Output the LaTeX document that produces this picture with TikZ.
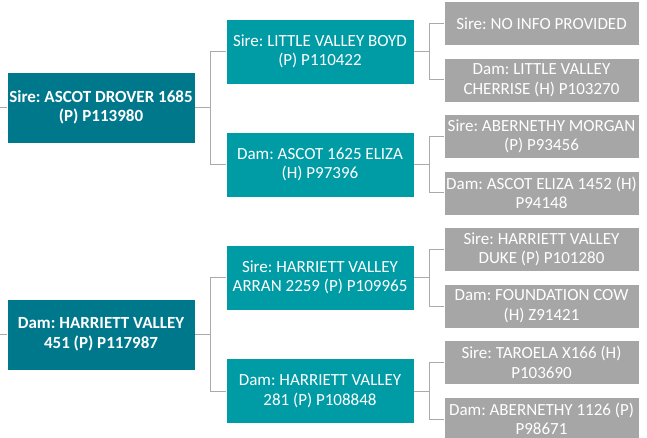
\documentclass[tikz,border=0pt]{standalone}
\usepackage{fontspec}
\setmainfont{Carlito}
\frenchspacing
\definecolor{rootteal}{RGB}{0,120,140}
\definecolor{midteal}{RGB}{0,156,166}
\definecolor{boxgray}{RGB}{166,166,166}
\definecolor{linegray}{RGB}{170,170,170}
\tikzset{
  elbow/.style={to path={-- ++(15,0) |- (\tikztotarget)}},
}
\begin{document}
\begin{tikzpicture}[x=1pt, y=-1pt, line width=1pt]
   \useasboundingbox (0,0) rectangle (647,438);
   \begin{scope}[every node/.style={draw=white, line width=0.6pt, text=white, align=center, inner sep=1pt,
       font=\fontsize{17}{19.5}\selectfont}]
    % first parents
    \node[fill=rootteal, minimum width=188, minimum height=71, font=\fontsize{17}{19.5}\selectfont\bfseries]
      (r1) at (101,107.5) {Sire: ASCOT DROVER 1685\\(P) P113980};
    \node[fill=rootteal, minimum width=188, minimum height=71, font=\fontsize{17}{19.5}\selectfont\bfseries]
      (r2) at (101,334.5) {Dam: HARRIETT VALLEY\\451 (P) P117987};

    % grandparents
    \node[fill=midteal, minimum width=188, minimum height=65] (s1) at (320,51.5) {Sire: LITTLE VALLEY BOYD\\(P) P110422};
    \node[fill=midteal, minimum width=188, minimum height=65] (s2) at (320,164.5) {Dam: ASCOT 1625 ELIZA\\(H) P97396};
    \node[fill=midteal, minimum width=188, minimum height=65] (s3) at (320,277.5) {Sire: HARRIETT VALLEY\\ARRAN 2259 (P) P109965};
    \node[fill=midteal, minimum width=188, minimum height=65] (s4) at (320,391) {Dam: HARRIETT VALLEY\\281 (P) P108848};

    % great grandparents
    \node[fill=boxgray, minimum width=195, minimum height=44] (g1) at (541.5,23.5) {Sire: NO INFO PROVIDED};
    \node[fill=boxgray, minimum width=195, minimum height=44] (g2) at (541.5,80) {Dam: LITTLE VALLEY\\CHERRISE (H) P103270};
    \node[fill=boxgray, minimum width=195, minimum height=44] (g3) at (541.5,136.5) {Sire: ABERNETHY MORGAN\\(P) P93456};
    \node[fill=boxgray, minimum width=195, minimum height=44] (g4) at (541.5,193) {Dam: ASCOT ELIZA 1452 (H)\\P94148};
    \node[fill=boxgray, minimum width=195, minimum height=44] (g5) at (541.5,249.5) {Sire: HARRIETT VALLEY\\DUKE (P) P101280};
    \node[fill=boxgray, minimum width=195, minimum height=44] (g6) at (541.5,306) {Dam: FOUNDATION COW\\(H) Z91421};
    \node[fill=boxgray, minimum width=195, minimum height=44] (g7) at (541.5,362.5) {Sire: TAROELA X166 (H)\\P103690};
    \node[fill=boxgray, minimum width=195, minimum height=44] (g8) at (541.5,419) {Dam: ABERNETHY 1126 (P)\\P98671};
   \end{scope}

   \coordinate (in1) at (0,107.5);
   \coordinate (in2) at (0,334.5);

   \begin{scope}[every edge/.style={draw=linegray, elbow}]
    \draw[linegray] (in1) -- (r1.west);
    \draw[linegray] (in2) -- (r2.west);
    \draw (r1.east) edge (s1.west) edge (s2.west);
    \draw (r2.east) edge (s3.west) edge (s4.west);
    \draw (s1.east) edge (g1.west) edge (g2.west);
    \draw (s2.east) edge (g3.west) edge (g4.west);
    \draw (s3.east) edge (g5.west) edge (g6.west);
    \draw (s4.east) edge (g7.west) edge (g8.west);
   \end{scope}
\end{tikzpicture}
\end{document}
